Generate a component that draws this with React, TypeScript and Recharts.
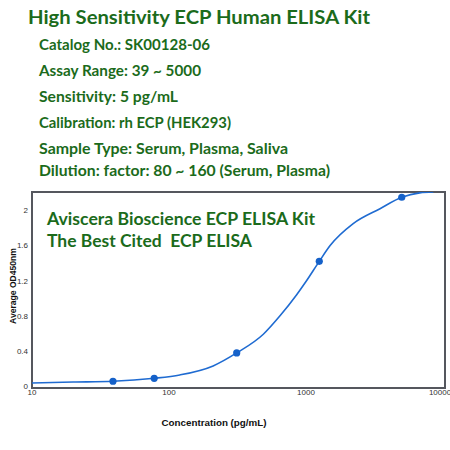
import React from 'react';
import { ComposedChart, Line, Scatter, XAxis, YAxis } from 'recharts';

// standard points
const stdConc = [39, 78, 312, 1250, 5000];
const stdOD = [0.054, 0.088, 0.377, 1.42, 2.15];

// fitted curve
const curveConc = [10, 20, 39, 78, 120, 210, 312, 488, 646, 855, 1000, 1250, 1500, 2210, 3470, 5000, 6760, 8500];
const curveOD = [0.035, 0.045, 0.054, 0.088, 0.126, 0.229, 0.377, 0.59, 0.8, 1.04, 1.19, 1.42, 1.6, 1.85, 2.02, 2.15, 2.2, 2.21];

const xTicks = [10, 100, 1000, 10000];
const yTicks = [0, 0.4, 0.8, 1.2, 1.6, 2];

const title = 'High Sensitivity ECP Human ELISA Kit';
const infoLines = [
  'Catalog No.: SK00128-06',
  'Assay Range: 39 ~ 5000',
  'Sensitivity: 5 pg/mL',
  'Calibration: rh ECP (HEK293)',
  'Sample Type: Serum, Plasma, Saliva',
  'Dilution: factor: 80 ~ 160 (Serum, Plasma)',
];
const infoWidths = [171, 162, 139, 192, 249, 291];
const infoBaselines = [50, 76, 102, 128, 154, 176];
const bannerLines = ['Aviscera Bioscience ECP ELISA Kit', 'The Best Cited  ECP ELISA'];
const bannerWidths = [268, 205];

const curveData = curveConc.map((c, i) => ({ conc: c, od: curveOD[i] }));
const stdData = stdConc.map((c, i) => ({ conc: c, od: stdOD[i] }));

const GREEN = '#1b6b1b';
const FRAME = '#55575e';
const headFont = 'Lato, "Open Sans", sans-serif';
const axisFont = '"Liberation Sans", Arial, sans-serif';

// plot box, same as the chart margins below
const M = { top: 192, right: 7, left: 32, bottom: 64 };
const W = 450;
const H = 450;

const fmtTick = (v: number) => String(v);

export default function App() {
  return (
    <div style={{ position: 'absolute', left: 0, top: 0, width: W, height: H, background: '#fff' }}>
      <div
        style={{
          position: 'absolute',
          left: M.left - 1,
          top: M.top - 1,
          width: W - M.left - M.right,
          height: H - M.top - M.bottom,
          border: `2px solid ${FRAME}`,
        }}
      />
      <ComposedChart
        width={W}
        height={H}
        margin={{ top: M.top, right: M.right, left: 0, bottom: 0 }}
      >
        <XAxis
          dataKey="conc"
          type="number"
          scale="log"
          domain={[10, 10000]}
          ticks={xTicks}
          allowDataOverflow
          axisLine={false}
          tickLine={false}
          tickSize={0}
          tickMargin={3}
          height={M.bottom}
          tickFormatter={fmtTick}
          tick={{ fontSize: 8, fill: '#333', fontFamily: axisFont }}
        />
        <YAxis
          type="number"
          domain={[0, 2.21]}
          ticks={yTicks}
          allowDataOverflow
          axisLine={false}
          tickLine={false}
          tickSize={0}
          tickMargin={4}
          width={M.left}
          tickFormatter={fmtTick}
          tick={{ fontSize: 8, fill: '#333', fontFamily: axisFont }}
        />
        <Line
          data={curveData}
          dataKey="od"
          type="monotone"
          stroke="#1f6bd1"
          strokeWidth={1.6}
          dot={false}
          isAnimationActive={false}
        />
        <Scatter
          data={stdData}
          dataKey="od"
          fill="#1561c9"
          shape={(p: any) => <circle cx={p.cx} cy={p.cy} r={3.6} fill="#1561c9" />}
          isAnimationActive={false}
        />
      </ComposedChart>
      <svg
        width={W}
        height={H}
        style={{ position: 'absolute', left: 0, top: 0, pointerEvents: 'none' }}
      >
        <text
          x={28}
          y={23.5}
          fontFamily={headFont}
          fontWeight={700}
          fontSize={19.5}
          fill={GREEN}
          textLength={342}
          lengthAdjust="spacingAndGlyphs"
        >
          {title}
        </text>
        {infoLines.map((t, i) => (
          <text
            key={t}
            x={39}
            y={infoBaselines[i]}
            fontFamily={headFont}
            fontWeight={700}
            fontSize={15}
            fill={GREEN}
            textLength={infoWidths[i]}
            lengthAdjust="spacingAndGlyphs"
          >
            {t}
          </text>
        ))}
        {bannerLines.map((t, i) => (
          <text
            key={t}
            x={47}
            y={224.5 + i * 22.5}
            fontFamily={headFont}
            fontWeight={700}
            fontSize={16.5}
            fill={GREEN}
            textLength={bannerWidths[i]}
            lengthAdjust="spacingAndGlyphs"
            style={{ whiteSpace: 'pre' }}
          >
            {t}
          </text>
        ))}
        <text
          x={214}
          y={425.5}
          textAnchor="middle"
          fontFamily={axisFont}
          fontWeight={700}
          fontSize={9.5}
          fill="#111"
          textLength={105}
          lengthAdjust="spacingAndGlyphs"
        >
          Concentration (pg/mL)
        </text>
        <text
          x={0}
          y={0}
          transform="translate(16,286) rotate(-90)"
          textAnchor="middle"
          fontFamily={axisFont}
          fontWeight={700}
          fontSize={9.5}
          fill="#111"
          textLength={76}
          lengthAdjust="spacingAndGlyphs"
        >
          Average OD450nm
        </text>
      </svg>
    </div>
  );
}
